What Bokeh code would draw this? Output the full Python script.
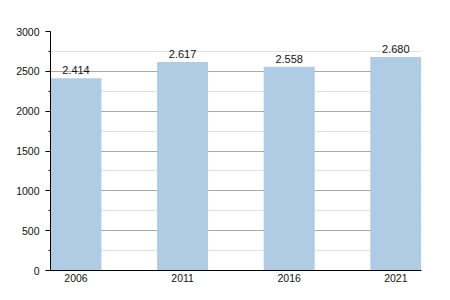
from bokeh.plotting import figure
from bokeh.models import ColumnDataSource, FixedTicker, Range1d, LabelSet
from bokeh.core.properties import value
from bokeh.embed import file_html
from bokeh.resources import INLINE

years = ["2006", "2011", "2016", "2021"]
values = [2414, 2617, 2558, 2680]
labels = ["2.414", "2.617", "2.558", "2.680"]
y_ticks = [0, 500, 1000, 1500, 2000, 2500, 3000]

xs = list(range(len(years)))
src = ColumnDataSource(dict(x=xs, top=values, lab=labels))

p = figure(width=450, height=300, output_backend="svg", toolbar_location=None,
           x_range=Range1d(-0.239, 3.241), y_range=Range1d(0, 3000),
           min_border_left=50, min_border_right=29, min_border_top=31, min_border_bottom=30)
p.outline_line_color = None
p.background_fill_color = "white"
p.border_fill_color = "white"

p.vbar(x="x", top="top", width=0.478, source=src, fill_color="#b0cbe4", line_color=None)

p.add_layout(LabelSet(x="x", y="top", text="lab", source=src, text_align="center",
                      text_baseline="bottom", y_offset=4, text_font=value("Liberation Sans"),
                      text_font_size=value("11px"), text_color="#111111"))

p.yaxis.ticker = FixedTicker(ticks=y_ticks, minor_ticks=list(range(0, 3001, 250)))
p.xaxis.ticker = FixedTicker(ticks=xs)
p.xaxis.major_label_overrides = {i: y for i, y in enumerate(years)}

for ax in (p.xaxis, p.yaxis):
    ax.axis_line_color = "black"
    ax.axis_line_width = 1
    ax.major_label_text_font = "Liberation Sans"
    ax.major_label_text_font_size = "10.5px"
    ax.major_label_text_color = "#111111"
    ax.minor_tick_line_color = None

p.yaxis.major_tick_line_color = "black"
p.yaxis.major_tick_out = 5
p.yaxis.major_tick_in = 0
p.yaxis.minor_tick_line_color = "black"
p.yaxis.minor_tick_out = 2
p.yaxis.minor_tick_in = 0
p.yaxis.major_label_standoff = 6
p.xaxis.major_tick_line_color = None
p.xaxis.major_tick_out = 0
p.xaxis.major_tick_in = 0
p.xaxis.major_label_standoff = 3

p.xgrid.grid_line_color = None
p.ygrid.grid_line_color = "#a8a8a8"
p.ygrid.minor_grid_line_color = "#e0e0e0"

open("out.html", "w").write(file_html(p, INLINE))
